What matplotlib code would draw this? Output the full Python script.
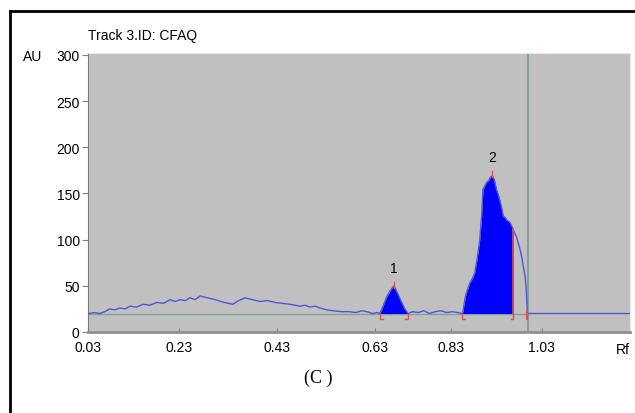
import numpy as np
import matplotlib
matplotlib.use("Agg")
import matplotlib.pyplot as plt

plt.rcParams['font.family'] = ['Liberation Sans', 'DejaVu Sans']

# densitogram trace (Rf, AU)
rf_trace = [0.030, 0.045, 0.056, 0.067, 0.078, 0.089, 0.100, 0.112, 0.123, 0.137,
            0.151, 0.166, 0.182, 0.196, 0.211, 0.222, 0.233, 0.244, 0.255, 0.266,
            0.277, 0.293, 0.310, 0.330, 0.349, 0.362, 0.376, 0.392, 0.409, 0.425,
            0.442, 0.458, 0.475, 0.486, 0.497, 0.508, 0.519, 0.530, 0.541, 0.556,
            0.570, 0.588, 0.607, 0.620, 0.633, 0.645, 0.656, 0.667, 0.673,
            0.680, 0.688, 0.696, 0.704, 0.712, 0.720, 0.728, 0.735,
            0.745, 0.757, 0.770, 0.782, 0.795, 0.808, 0.820, 0.832, 0.845, 0.855,
            0.862, 0.871, 0.877, 0.882, 0.888, 0.893, 0.897, 0.900, 0.904, 0.908,
            0.913, 0.917, 0.921, 0.925, 0.930, 0.934, 0.937, 0.941, 0.945, 0.949,
            0.952, 0.956, 0.959, 0.963, 0.967, 0.970, 0.974, 0.978, 0.982, 0.986,
            0.989, 0.993, 0.995, 0.998, 1.000, 1.100, 1.224]
au_trace = [20, 21, 20, 22, 25, 24, 26, 25, 28, 27,
            30, 29, 32, 31, 35, 33, 35, 34, 37, 35,
            39, 37, 35, 32, 30, 34, 37, 35, 33, 34,
            32, 31, 30, 29, 28, 29, 27, 28, 26, 24,
            23, 22, 22, 21, 23, 22, 20, 21, 20,
            28, 38, 45, 50, 42, 33, 25, 20,
            22, 21, 23, 20, 22, 23, 21, 22, 21, 20,
            40, 53, 58, 64, 82, 100, 125, 154, 158, 162,
            164, 168, 169, 165, 154, 148, 143, 135, 125, 124,
            121, 120, 119, 115, 111, 107, 103, 96, 89, 80,
            71, 60, 49, 20, 20, 20, 20]

baseline = 20
peak_ranges = [(0.673, 0.735), (0.855, 0.967)]
peak_labels = ["1", "2"]
peak_apex = [(0.704, 52), (0.921, 172)]
end_marker = 0.998
solvent_front = 1.0

xtick_pos = [0.03, 0.23, 0.446, 0.662, 0.83, 1.03]
xtick_lab = ["0.03", "0.23", "0.43", "0.63", "0.83", "1.03"]
yticks = [0, 50, 100, 150, 200, 250, 300]

rf = np.array(rf_trace)
au = np.array(au_trace, dtype=float)

fig = plt.figure(figsize=(6.35, 4.14), dpi=100)
ax = fig.add_axes([88 / 635, 81 / 414, 542 / 635, 279 / 414])
ax.set_facecolor('#c0c0c0')
ax.set_xlim(0.03, 1.224)
ax.set_ylim(0, 302)

# baseline and solvent front
ax.plot([0.03, solvent_front], [baseline, baseline], color='#7fa595', lw=1, zorder=2)
ax.axvline(solvent_front, color='#7a9c98', lw=1.3, zorder=2)

# filled peaks
for (a, b) in peak_ranges:
    m = (rf >= a) & (rf <= b)
    ax.fill_between(rf[m], baseline, au[m], color='#0000ff', lw=0, zorder=3)

ax.plot(rf, au, color='#5454d6', lw=1, zorder=4)

# red integration marks
red = '#e05050'
for (a, b) in peak_ranges:
    ax.plot([a, a, a + 0.006], [baseline, baseline - 6, baseline - 6], color=red, lw=1, zorder=5)
    ax.plot([b - 0.006, b, b], [baseline - 6, baseline - 6, baseline], color=red, lw=1, zorder=5)
m_end = np.interp(peak_ranges[1][1], rf, au)
ax.plot([peak_ranges[1][1]] * 2, [baseline, m_end], color=red, lw=1.2, zorder=5)
ax.plot([end_marker] * 2, [baseline - 6, baseline + 2], color=red, lw=1.5, zorder=5)
for (px, py), lab in zip(peak_apex, peak_labels):
    ax.plot([px, px], [py - 4, py + 2], color=red, lw=1, zorder=5)
    ax.text(px, py + 10, lab, ha='center', va='bottom', fontsize=10)

for s in ['top', 'right']:
    ax.spines[s].set_color('#e8e8e8')
ax.spines['left'].set_color('#7a7a7a')
ax.spines['bottom'].set_color('#909090')
ax.spines['bottom'].set_linewidth(2)

ax.set_yticks(yticks)
ax.set_xticks(xtick_pos)
ax.set_xticklabels(xtick_lab)
ax.tick_params(axis='y', length=4, color='#808080', labelsize=10, pad=2)
ax.tick_params(axis='x', length=3, direction='in', color='#808080', labelsize=10, pad=6)

ax.text(1.0, -0.035, "Rf", transform=ax.transAxes, ha='right', va='top', fontsize=10)
fig.text(88 / 635, 1 - 36 / 414, "Track 3.ID: CFAQ", ha='left', va='center', fontsize=10)
fig.text(23 / 635, 1 - 57 / 414, "AU", ha='left', va='center', fontsize=10)
fig.text(318 / 635, 1 - 378 / 414, "(C )", ha='center', va='center', fontsize=13,
         family='Liberation Serif')

# outer frame (left and top)
fig.add_artist(plt.Line2D([10 / 635, 10 / 635], [0, 1 - 12 / 414], color='black', lw=2,
                          transform=fig.transFigure))
fig.add_artist(plt.Line2D([10 / 635, 1], [1 - 12 / 414, 1 - 12 / 414], color='black', lw=2,
                          transform=fig.transFigure))

fig.savefig("out.png", dpi=100)
